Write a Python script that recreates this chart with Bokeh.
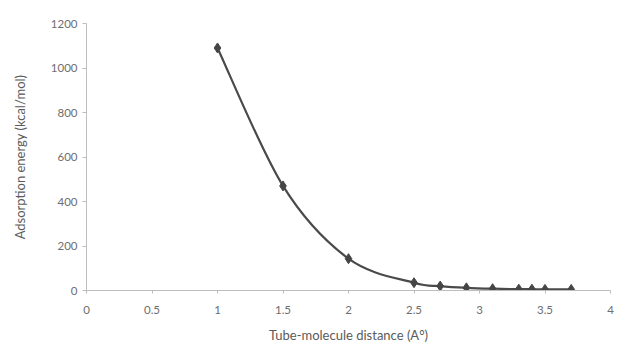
import numpy as np
from bokeh.plotting import figure
from bokeh.models import ColumnDataSource, FixedTicker, Range1d
from bokeh.embed import file_html
from bokeh.resources import INLINE

# data
distance = [1.0, 1.5, 2.0, 2.5, 2.7, 2.9, 3.1, 3.3, 3.4, 3.5, 3.7]
energy = [1090, 470, 143, 35, 20, 12, 8, 6, 6, 5, 5]
x_ticks = [0, 0.5, 1, 1.5, 2, 2.5, 3, 3.5, 4]
y_ticks = [0, 200, 400, 600, 800, 1000, 1200]

p = figure(width=620, height=346, output_backend="svg", toolbar_location=None,
           x_range=Range1d(0, 4), y_range=Range1d(0, 1200),
           min_border_left=86, min_border_right=10, min_border_top=23, min_border_bottom=56)
p.outline_line_color = None
p.grid.visible = False
p.background_fill_color = "white"
p.border_fill_color = "white"

# smoothed line (Catmull-Rom style Bezier segments through the data points)
xs = np.array(distance, dtype=float)
ys = np.array(energy, dtype=float)
n = len(xs)
xp = np.concatenate([[xs[0]], xs, [xs[-1]]])
yp = np.concatenate([[ys[0]], ys, [ys[-1]]])
seg = dict(x0=[], y0=[], x1=[], y1=[], cx0=[], cy0=[], cx1=[], cy1=[])
for i in range(n - 1):
    a, b, c, d = i, i + 1, i + 2, i + 3
    seg["x0"].append(xp[b]); seg["y0"].append(yp[b])
    seg["x1"].append(xp[c]); seg["y1"].append(yp[c])
    seg["cx0"].append(xp[b] + (xp[c] - xp[a]) / 6)
    seg["cy0"].append(yp[b] + (yp[c] - yp[a]) / 6)
    seg["cx1"].append(xp[c] - (xp[d] - xp[b]) / 6)
    seg["cy1"].append(yp[c] - (yp[d] - yp[b]) / 6)
p.bezier(x0="x0", y0="y0", x1="x1", y1="y1", cx0="cx0", cy0="cy0", cx1="cx1", cy1="cy1",
         source=ColumnDataSource(seg), line_color="#4a4a4a", line_width=2.2)

src = ColumnDataSource(dict(x=distance, y=energy))
p.scatter("x", "y", source=src, marker="diamond", size=10, fill_color="#454545",
          line_color="#454545")

font = "Lato"
for ax in (p.xaxis[0], p.yaxis[0]):
    ax.axis_line_color = "#bdbdbd"
    ax.major_tick_line_color = "#bdbdbd"
    ax.minor_tick_line_color = None
    ax.major_tick_in = 0
    ax.major_label_text_font = font
    ax.major_label_text_font_size = "11.5px"
    ax.major_label_text_color = "#6e6e6e"
    ax.axis_label_text_font = font
    ax.axis_label_text_font_size = "13px"
    ax.axis_label_text_font_style = "normal"
    ax.axis_label_text_color = "#5a5a5a"

p.xaxis.ticker = FixedTicker(ticks=x_ticks)
p.yaxis.ticker = FixedTicker(ticks=y_ticks)
p.xaxis.major_label_overrides = {0: "0", 1: "1", 2: "2", 3: "3", 4: "4"}
p.xaxis.major_tick_out = 3
p.yaxis.major_tick_out = 4
p.xaxis.major_label_standoff = 12
p.yaxis.major_label_standoff = 5
p.xaxis.axis_label = "Tube-molecule distance (A°)"
p.yaxis.axis_label = "Adsorption energy (kcal/mol)"
p.xaxis.axis_label_standoff = 10
p.yaxis.axis_label_standoff = 20

open("out.html", "w").write(file_html(p, INLINE))
